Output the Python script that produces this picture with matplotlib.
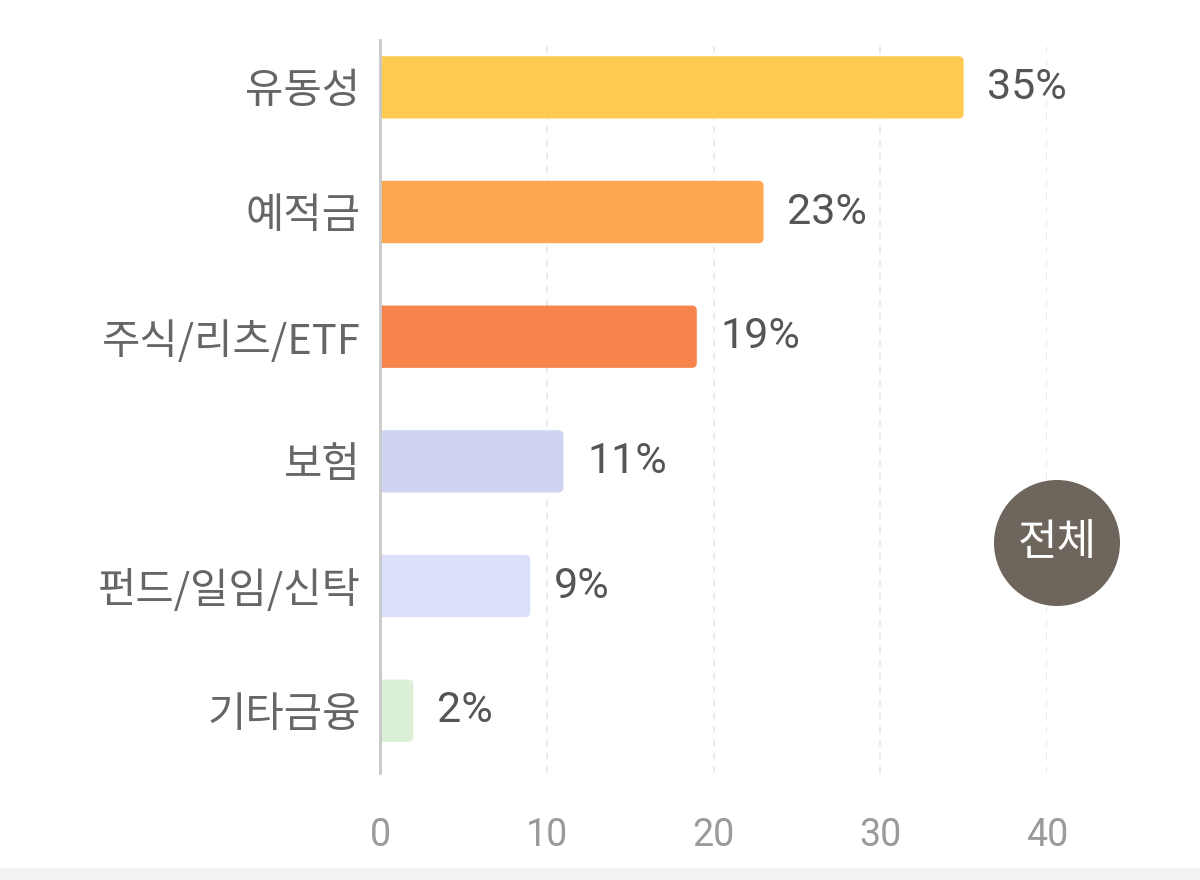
import matplotlib
matplotlib.use("Agg")
import matplotlib.pyplot as plt
import matplotlib.patches as mpatches

categories = ["유동성", "예적금", "주식/리츠/ETF", "보험", "펀드/일임/신탁", "기타금융"]
values = [35, 23, 19, 11, 9, 2]
value_labels = ["35%", "23%", "19%", "11%", "9%", "2%"]
colors = ["#FECB52", "#FDA851", "#F7844D", "#CFD5F0", "#D9E0F8", "#DCEFD7"]
xticks = [0, 10, 20, 30, 40]
badge_text = "전체"

KR = ["Noto Sans CJK KR", "DejaVu Sans"]
NUM = ["Roboto", "Noto Sans CJK KR", "DejaVu Sans"]

fig = plt.figure(figsize=(12, 8.8), dpi=100)
fig.patch.set_facecolor("white")
ax = fig.add_axes([380 / 1200, 1 - 773 / 880, (1047 - 380) / 1200, (773 - 40) / 880])

ypos = list(range(len(categories)))
bars = ax.barh(ypos, values, height=0.5, color=colors, zorder=3)
ax.set_xlim(0, 40)
ax.set_ylim(5.5, -0.38)

# swap plain bars for ones with slightly rounded ends
px_x = (1047 - 380) / 40
px_y = (773 - 40) / 5.88
r = 5 / px_x
for b in bars:
    x0, y0, w, h = b.get_x(), b.get_y(), b.get_width(), b.get_height()
    fb = mpatches.FancyBboxPatch((x0 - 0.5, y0), w + 0.5, h,
                                 boxstyle=f"round,pad=0,rounding_size={r}",
                                 mutation_aspect=px_x / px_y,
                                 facecolor=b.get_facecolor(), edgecolor="none", zorder=3)
    ax.add_patch(fb)
    b.set_visible(False)

for y, v, lab in zip(ypos, values, value_labels):
    ax.annotate(lab, (v, y), xytext=(17, 0), textcoords="offset points",
                va="center", ha="left", fontsize=31, color="#555555",
                family=NUM, annotation_clip=False)

ax.set_yticks(ypos)
ax.set_yticklabels(categories, fontsize=30, color="#666666", family=KR)
ax.set_xticks(xticks)
ax.set_xticklabels([str(t) for t in xticks], fontsize=27, color="#9a9a9a", family=NUM)
ax.tick_params(axis="y", length=0, pad=14)
ax.tick_params(axis="x", length=0, pad=32)

for t in xticks[1:]:
    ax.axvline(t, color="#e6e6e6", lw=1.2, ls=(0, (4, 4)), zorder=1)

for s in ["top", "right", "bottom"]:
    ax.spines[s].set_visible(False)
ax.spines["left"].set_color("#c8c8c8")
ax.spines["left"].set_linewidth(2)
ax.spines["left"].set_zorder(4)

# badge
circ = mpatches.Circle((10.57, 8.8 - 5.43), 0.63, transform=fig.dpi_scale_trans,
                       facecolor="#6E655C", edgecolor="none")
fig.patches.append(circ)
fig.text(1057 / 1200, 1 - 543 / 880, badge_text, ha="center", va="center",
         fontsize=31, color="white", family=KR)

# bottom strip
fig.patches.append(mpatches.Rectangle((0, 0), 1, 12 / 880, transform=fig.transFigure,
                                      facecolor="#f2f2f2", edgecolor="none"))

fig.savefig("out.png", dpi=100)
